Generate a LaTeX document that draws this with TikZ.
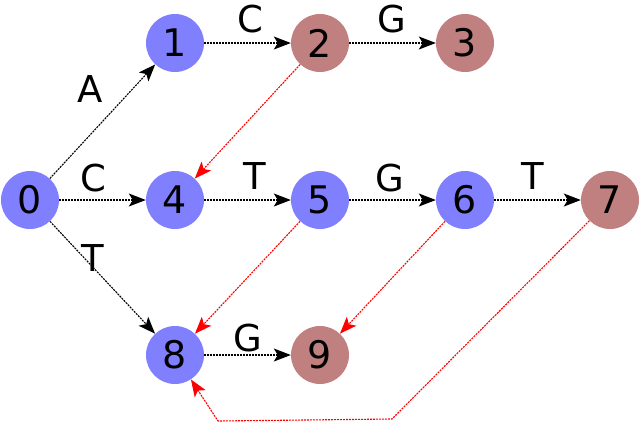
\documentclass[tikz,border=0pt]{standalone}
\usepackage{fontspec}
\setmainfont{DejaVu Sans}
\usetikzlibrary{arrows.meta}
\definecolor{nblue}{RGB}{128,128,255}
\definecolor{nbrown}{RGB}{192,128,128}
\begin{document}
\begin{tikzpicture}[x=1pt,y=-1pt,
  st/.style={circle,minimum size=58pt,inner sep=0pt,font=\fontsize{38}{38}\selectfont},
  bn/.style={st,fill=nblue},
  rn/.style={st,fill=nbrown},
  edge/.style={dash pattern=on 2pt off 1pt,line width=1.1pt,-{Stealth[length=17pt,width=13pt,inset=4pt]}},
  fail/.style={edge,red},
  lbl/.style={font=\fontsize{37}{37}\selectfont}]
\useasboundingbox (0,0) rectangle (640,424);
\node[bn] (n0) at (30,200) {0};
\node[bn] (n1) at (175,43) {1};
\node[rn] (n2) at (320,43) {2};
\node[rn] (n3) at (465,43) {3};
\node[bn] (n4) at (175,200) {4};
\node[bn] (n5) at (320,200) {5};
\node[bn] (n6) at (465,200) {6};
\node[rn] (n7) at (610,200) {7};
\node[bn] (n8) at (175,355) {8};
\node[rn] (n9) at (320,355) {9};
\coordinate (c1) at (392,419);
\coordinate (c2) at (218,421);
\draw[edge] (n0) -- (n1);
\draw[edge] (n1) -- (n2);
\draw[edge] (n2) -- (n3);
\draw[edge] (n0) -- (n4);
\draw[edge] (n4) -- (n5);
\draw[edge] (n5) -- (n6);
\draw[edge] (n6) -- (n7);
\draw[edge] (n0) -- (n8);
\draw[edge] (n8) -- (n9);
\draw[fail] (n2) -- (n4);
\draw[fail] (n5) -- (n8);
\draw[fail] (n6) -- (n9);
\draw[fail] (n7) -- (c1) -- (c2) -- (n8);
\node[lbl] (lA) at (90,89) {A};
\node[lbl] (lC1) at (250,19) {C};
\node[lbl] (lG1) at (392,19) {G};
\node[lbl] (lC2) at (93,178) {C};
\node[lbl] (lT1) at (255,176) {T};
\node[lbl] (lG2) at (390,178) {G};
\node[lbl] (lT2) at (533,176) {T};
\node[lbl] (lT3) at (93,258) {T};
\node[lbl] (lG3) at (248,338) {G};
\end{tikzpicture}
\end{document}
